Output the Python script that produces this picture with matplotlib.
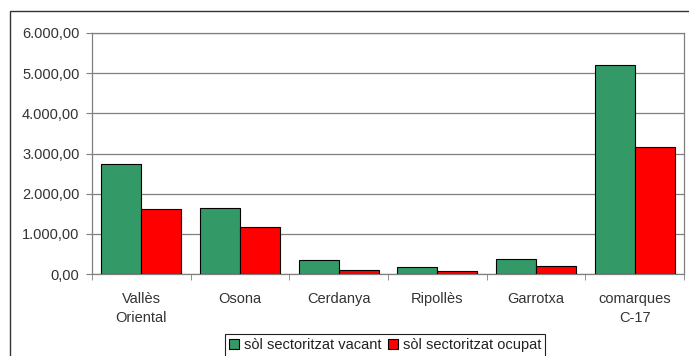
import numpy as np
import matplotlib.pyplot as plt
from matplotlib.patches import Rectangle
from matplotlib.ticker import FuncFormatter

# data
comarques = ['Vallès\nOriental', 'Osona', 'Cerdanya', 'Ripollès', 'Garrotxa', 'comarques\nC-17']
vacant = [2740, 1650, 340, 165, 365, 5210]
ocupat = [1625, 1160, 90, 80, 205, 3150]
series_names = ['sòl sectoritzat vacant', 'sòl sectoritzat ocupat']

plt.rcParams['font.family'] = ['Liberation Sans', 'DejaVu Sans']
plt.rcParams['font.size'] = 10.5

W, H = 689, 356
fig = plt.figure(figsize=(W / 100, H / 100), dpi=100)
ax = fig.add_axes([92 / W, 1 - 274 / H, 592 / W, 241 / H])

x = np.arange(len(comarques))
bw = 0.405
b1 = ax.bar(x - bw / 2, vacant, bw, color='#339966', edgecolor='black', linewidth=0.8, zorder=3)
b2 = ax.bar(x + bw / 2, ocupat, bw, color='#ff0000', edgecolor='black', linewidth=0.8, zorder=3)

ax.set_xlim(-0.5, len(comarques) - 0.5)
ax.set_ylim(0, 6000)
ax.set_yticks(np.arange(0, 6001, 1000))

def fmt(v, pos):
    s = f'{v:,.2f}'
    return s.replace(',', 'X').replace('.', ',').replace('X', '.')

ax.yaxis.set_major_formatter(FuncFormatter(fmt))
ax.yaxis.grid(True, color='#808080', linewidth=0.9, zorder=0)

# category labels between boundary ticks
ax.set_xticks(x)
ax.set_xticklabels(comarques, color='#333333', linespacing=1.45)
ax.tick_params(axis='x', length=0, pad=13)
ax.set_xticks(np.arange(-0.5, len(comarques)), minor=True)
ax.tick_params(axis='x', which='minor', length=4, color='#808080', direction='out')
ax.tick_params(axis='y', length=4, color='#808080', colors='#333333', pad=5)

for s in ax.spines.values():
    s.set_color('#808080')
    s.set_linewidth(0.9)

# outer chart frame (cut off at right and bottom)
fig.patches.append(Rectangle((10 / W, -0.05), 1.1, 1 - 11 / H + 0.05, transform=fig.transFigure,
                             fill=False, edgecolor='#333333', linewidth=1.0))

leg = fig.legend([b1, b2], series_names, loc='upper left',
                 bbox_to_anchor=(225 / W, 1 - 334 / H), ncol=2,
                 frameon=True, fancybox=False, edgecolor='#222222', framealpha=1,
                 handlelength=0.65, handleheight=0.65, handletextpad=0.35,
                 columnspacing=0.45, borderpad=0.3, borderaxespad=0)
leg.get_frame().set_linewidth(0.8)
for t in leg.get_texts():
    t.set_color('#222222')

fig.savefig('out.png', dpi=100)
